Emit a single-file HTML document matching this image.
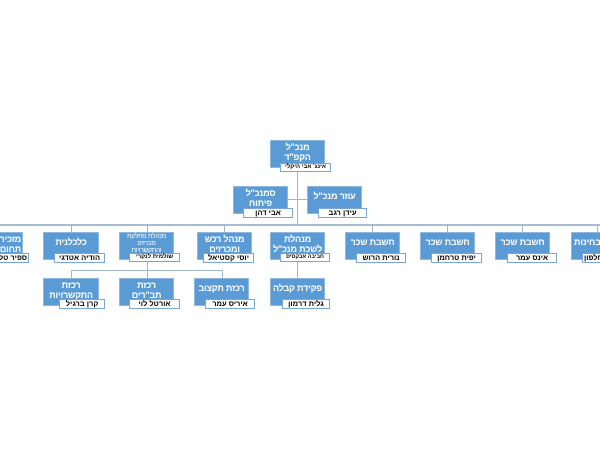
<!DOCTYPE html>
<html><head><meta charset="utf-8"><style>
html,body{margin:0;padding:0;background:#fff;}
#w{position:relative;width:600px;height:450px;overflow:hidden;font-family:"Liberation Sans","DejaVu Sans",sans-serif;}
.b{position:absolute;background:#5b9bd5;border:1px solid #8fb8e0;box-sizing:border-box;color:#fff;font-weight:bold;text-align:center;direction:rtl;white-space:nowrap;font-size:9px;line-height:10px;letter-spacing:-0.2px;}
.b1{padding-top:5px;}
.b2{padding-top:1px;}
.l{position:absolute;background:#fff;border:1px solid #7aa6d6;box-sizing:border-box;color:#000;font-weight:bold;text-align:center;direction:rtl;white-space:nowrap;font-size:7.5px;line-height:8px;height:10px;}
.h{position:absolute;background:#9fb6cc;height:1px;}
.v{position:absolute;background:#9fb6cc;width:1px;}
</style></head><body><div id="w">
<div class="v" style="left:297px;top:168px;height:56px"></div>
<div class="h" style="left:288px;top:199px;width:19px"></div>
<div class="h" style="left:0;top:224px;width:600px;background:#a9bdd0;height:2px"></div>
<div class="v" style="left:71px;top:224px;height:8px"></div>
<div class="v" style="left:147px;top:224px;height:8px"></div>
<div class="v" style="left:224px;top:224px;height:8px"></div>
<div class="v" style="left:372px;top:224px;height:8px"></div>
<div class="v" style="left:447px;top:224px;height:8px"></div>
<div class="v" style="left:522px;top:224px;height:8px"></div>
<div class="v" style="left:597px;top:224px;height:8px"></div>
<div class="v" style="left:147px;top:262px;height:8px"></div>
<div class="h" style="left:71px;top:270px;width:152px"></div>
<div class="v" style="left:71px;top:270px;height:8px"></div>
<div class="v" style="left:147px;top:270px;height:8px"></div>
<div class="v" style="left:222px;top:270px;height:8px"></div>
<div class="v" style="left:297px;top:262px;height:16px"></div>

<div class="b b2" style="left:270px;top:140px;width:55px;height:28px">מנכ"ל<br>הקפ"ד</div>
<div class="l" style="left:280px;top:163px;width:51px;height:9px;font-size:6px;line-height:7px">אינג' אבי היקלי</div>

<div class="b b2" style="left:233px;top:186px;width:55px;height:28px">סמנכ"ל<br>פיתוח</div>
<div class="l" style="left:243px;top:208px;width:50px">אבי דהן</div>
<div class="b b1" style="left:307px;top:186px;width:55px;height:28px;padding-top:4px">עוזר מנכ"ל</div>
<div class="l" style="left:318px;top:208px;width:49px">עידן רגב</div>

<div class="b b2" style="left:-32px;top:232px;width:55px;height:28px;text-align:right;padding-right:1px">מזכירת<br>תחום כש</div>
<div class="l" style="left:-22px;top:253px;width:51px;text-align:right;padding-right:1px">ספיר טל</div>

<div class="b b1" style="left:43px;top:232px;width:56px;height:28px;padding-top:4px">כלכלנית</div>
<div class="l" style="left:54px;top:253px;width:51px">הודיה אטדגי</div>

<div class="b" style="left:119px;top:232px;width:55px;height:28px;font-size:6.5px;line-height:7px;padding-top:0px;font-weight:normal">מנהלת מחלקת<br>מכרזים<br>והתקשרויות</div>
<div class="l" style="left:129px;top:253px;width:51px;height:9px;font-size:6px;line-height:7px">שולמית לנקרי</div>

<div class="b b2" style="left:197px;top:232px;width:55px;height:28px">מנהל רכש<br>ומכרזים</div>
<div class="l" style="left:203px;top:253px;width:51px">יוסי קסטיאל</div>

<div class="b b2" style="left:270px;top:232px;width:55px;height:28px">מנהלת<br>לשכת מנכ"ל</div>
<div class="l" style="left:280px;top:253px;width:50px;height:9px;font-size:5.5px;line-height:7px">חביבה אבקסיס</div>

<div class="b b1" style="left:345px;top:232px;width:55px;height:28px;padding-top:4px">חשבת שכר</div>
<div class="l" style="left:356px;top:253px;width:50px">נורית הרוש</div>
<div class="b b1" style="left:420px;top:232px;width:55px;height:28px;padding-top:4px">חשבת שכר</div>
<div class="l" style="left:431px;top:253px;width:51px">יפית טרחמן</div>
<div class="b b1" style="left:495px;top:232px;width:55px;height:28px;padding-top:4px">חשבת שכר</div>
<div class="l" style="left:507px;top:253px;width:50px">אינס עמר</div>
<div class="b b1" style="left:571px;top:232px;width:55px;height:28px;padding-top:4px;text-align:left;padding-left:2px">בחינות</div>
<div class="l" style="left:582px;top:253px;width:50px;text-align:left;padding-left:1px">אילנה חלפון</div>

<div class="b b2" style="left:43px;top:278px;width:56px;height:28px">רכזת<br>התקשרויות</div>
<div class="l" style="left:59px;top:299px;width:46px">קרן ברגיל</div>
<div class="b b2" style="left:119px;top:278px;width:55px;height:28px">רכזת<br>תב"רים</div>
<div class="l" style="left:129px;top:299px;width:51px">אורטל לוי</div>
<div class="b b1" style="left:194px;top:278px;width:55px;height:28px;padding-top:4px">רכזת תקצוב</div>
<div class="l" style="left:205px;top:299px;width:50px">איריס עמר</div>
<div class="b b1" style="left:270px;top:278px;width:55px;height:28px;padding-top:4px">פקידת קבלה</div>
<div class="l" style="left:282px;top:299px;width:48px">גלית דרמון</div>
</div></body></html>
